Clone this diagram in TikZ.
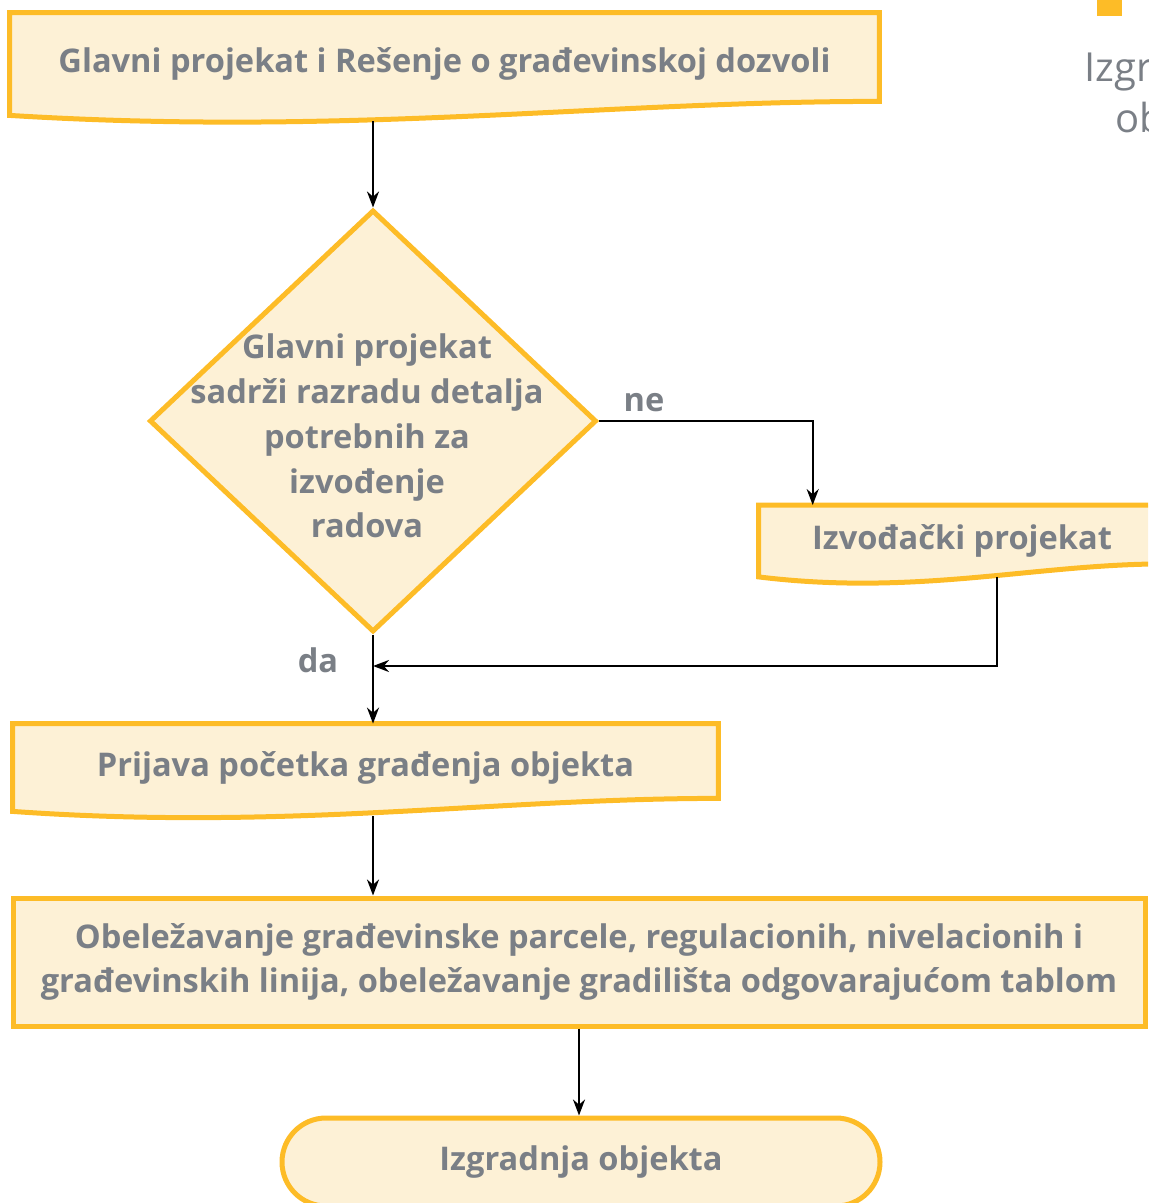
\documentclass[tikz,border=0pt]{standalone}
\usepackage{fontspec}
\setmainfont{Open Sans}
\usetikzlibrary{arrows.meta,positioning,calc,shapes.geometric,backgrounds}

\definecolor{zuta}{RGB}{253,188,39}
\definecolor{krem}{RGB}{253,241,214}
\definecolor{siva}{RGB}{122,127,134}

\tikzset{
  blok/.style={draw=zuta, line width=2.5pt, fill=krem},
  tekst/.style={text=siva, font=\bfseries\fontsize{16.3}{22.4}\selectfont, align=center, inner sep=0pt},
  dok/.style={tekst, minimum height=#1},
  veza/.style={->, line width=1.15pt},
}

% document shape with a wavy bottom edge
\newcommand{\dokument}[2]{%
  \path[blok] (#1.north west) -- (#1.north east) -- ([yshift=#2]#1.south east)
    .. controls ($(#1.south west)!0.68!(#1.south east)+(0,#2)$)
    and ($(#1.south west)!0.39!(#1.south east)-(0,1.5*#2)$) .. (#1.south west) -- cycle;}

\begin{document}
\begin{tikzpicture}[x=0.5pt, y=-0.5pt, >={Stealth[length=8pt,width=6pt]}]
  \useasboundingbox (0,0) rectangle (1148,1203);
  \clip (0,0) rectangle (1148,1203);

  % corner of the legend
  \fill[zuta] (1097,-10) rectangle (1122,16);
  \node[text=siva, font=\fontsize{20}{24}\selectfont, anchor=west, inner sep=0pt] (leg1) at (1084,72) {Izgr};
  \node[text=siva, font=\fontsize{20}{24}\selectfont, anchor=west, inner sep=0pt] (leg2) at (1115,118) {ob};

  % blocks
  \node[dok=51pt, minimum width=434.5pt] (glavni) at (444.5,64)
    {Glavni projekat i Rešenje o građevinskoj dozvoli};
  \node[diamond, blok, minimum width=223.5pt, minimum height=211pt, inner sep=0pt] (uslov) at (373,421) {};
  \node[tekst] (uslovtxt) at (367,436)
    {Glavni projekat\\sadrži razradu detalja\\potrebnih za\\izvođenje\\radova};
  \node[dok=35.5pt, minimum width=203pt] (izvodjacki) at (962,541) {Izvođački projekat};
  \node[dok=43.5pt, minimum width=352.5pt] (prijava) at (365.5,767.5)
    {Prijava početka građenja objekta};
  \node[tekst, blok, minimum width=566pt, minimum height=64pt] (obelez) at (579,962)
    {Obeležavanje građevinske parcele, regulacionih, nivelacionih i\\
     građevinskih linija, obeležavanje gradilišta odgovarajućom tablom};
  \node[tekst, blok, rounded corners=22pt, minimum width=299pt, minimum height=44pt] (izgradnja) at (581,1162)
    {Izgradnja objekta};

  % labels
  \node[tekst] (ne) at (644,403) {ne};
  \node[tekst] (da) at (318,660) {da};

  \begin{scope}[on background layer]
    \clip (0,0) rectangle (1148,1203);
    \dokument{glavni}{7pt}
    \dokument{izvodjacki}{6.5pt}
    \dokument{prijava}{6.5pt}
  \end{scope}

  % connectors
  \coordinate (izvulaz) at ($(izvodjacki.north west)!0.133!(izvodjacki.north east)$);
  \coordinate (izvizlaz) at ($(izvodjacki.south west)!0.586!(izvodjacki.south east)$);
  \coordinate (spoj) at (373,666);
  \draw[veza] ($(glavni.south -| uslov.north)+(0,-3pt)$) -- (uslov.north);
  \draw[veza] (uslov.east) -| (izvulaz);
  \draw[veza] (izvizlaz) |- (spoj);
  \draw[veza] (uslov.south) -- (prijava.north -| uslov.south);
  \draw[veza] ($(prijava.south -| uslov.south)+(0,-2.5pt)$) -- (obelez.north -| uslov.south);
  \draw[veza] (obelez.south) -- (obelez.south |- izgradnja.north);
\end{tikzpicture}
\end{document}
